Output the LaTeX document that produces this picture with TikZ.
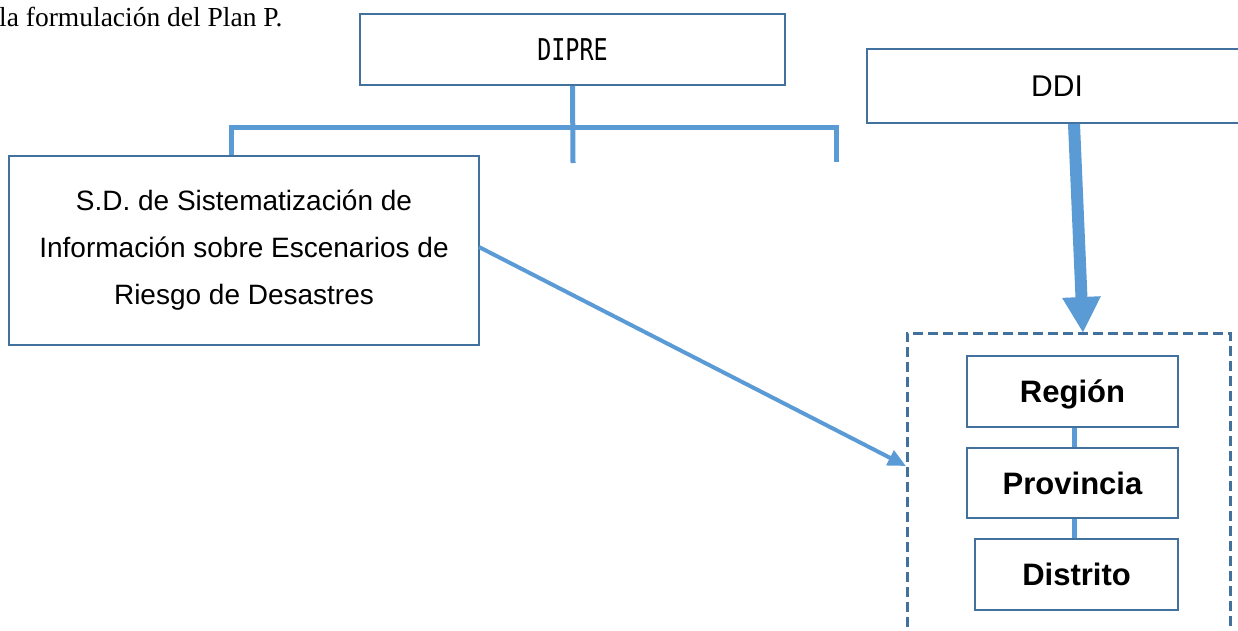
\documentclass[tikz,border=0pt]{standalone}
\usepackage{fontspec}
\setmainfont{Liberation Sans}
\newfontfamily\serifface{Liberation Serif}
\newfontfamily\monoface[FakeStretch=0.78]{DejaVu Sans Mono}
\usetikzlibrary{arrows.meta}
\definecolor{boxblue}{HTML}{41719C}
\definecolor{lineblue}{HTML}{5B9BD5}
\tikzset{
  box/.style={draw=boxblue, line width=2pt, fill=white, inner sep=0pt, align=center},
  conn/.style={draw=lineblue, line width=5pt},
  lvl/.style={box, font=\fontsize{31}{36}\selectfont\bfseries, text height=22pt, text depth=0pt},
}
\begin{document}
\begin{tikzpicture}[x=1pt,y=-1pt]
\useasboundingbox (0,0) rectangle (1238,630);
% caption text
\node[anchor=base west, inner sep=0pt, font=\serifface\fontsize{27.5}{32}\selectfont] (cap) at (-1,26) {la formulación del Plan P.};
% boxes
\node[box, minimum width=425pt, minimum height=71pt, font=\monoface\fontsize{30}{34}\selectfont] (dipre) at (572.5,49.5) {DIPRE};
\node[box, minimum width=380pt, minimum height=74pt, font=\fontsize{30}{34}\selectfont] (ddi) at (1057,86) {DDI};
\node[box, minimum width=470pt, minimum height=189pt, font=\fontsize{28}{47}\selectfont] (sd) at (244,250.5) {S.D. de Sistematización de\\Información sobre Escenarios de\\Riesgo de Desastres};
\node[draw=boxblue, line width=3pt, dash pattern=on 10pt off 5pt, minimum width=323pt, minimum height=330pt, inner sep=0pt] (zone) at (1068.5,498) {};
\node[lvl, minimum width=211pt, minimum height=71pt] (reg) at (1072.5,391.5) {Región};
\node[lvl, minimum width=211pt, minimum height=70pt] (prov) at (1072.5,483) {Provincia};
\node[lvl, minimum width=203pt, minimum height=71pt] (dist) at (1076.5,574.5) {Distrito};
% tree connectors
\coordinate (bl) at (231,127.5);
\coordinate (br) at (836,127.5);
\coordinate (rend) at (836,162);
\coordinate (mend) at (573,163);
\draw[conn] (dipre.south) -- (mend);
\draw[conn] (sd.north -| bl) -- (bl) -- (br) -- (rend);
% level connectors
\draw[conn] (reg.south -| 1074,0) -- (prov.north -| 1074,0);
\draw[conn] (prov.south -| 1074,0) -- (dist.north -| 1074,0);
% arrows
\coordinate (sdout) at (479,247);
\coordinate (tipA) at (906,466);
\draw[draw=lineblue, line width=4pt, -{Triangle[width=16pt,length=18pt]}, fill=lineblue] (sdout) -- (tipA);
\coordinate (ddiout) at (1074,124);
\coordinate (tipB) at (1083,333);
\draw[draw=lineblue, line width=12pt, -{Triangle[width=36pt,length=36pt]}, fill=lineblue] (ddiout) -- (tipB);
\end{tikzpicture}
\end{document}
